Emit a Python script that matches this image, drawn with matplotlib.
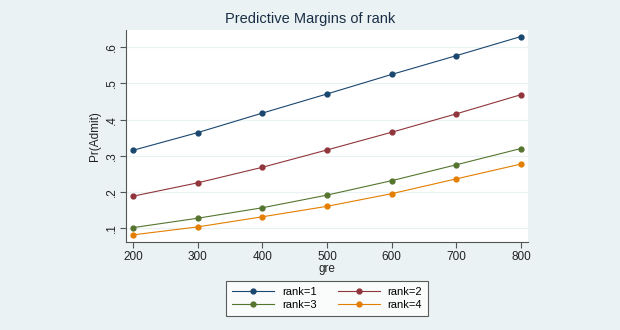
import matplotlib
matplotlib.use("Agg")
import matplotlib.pyplot as plt

gre = [200, 300, 400, 500, 600, 700, 800]
rank1 = [0.315, 0.364, 0.418, 0.471, 0.525, 0.577, 0.630]
rank2 = [0.188, 0.225, 0.268, 0.316, 0.365, 0.416, 0.469]
rank3 = [0.101, 0.127, 0.156, 0.191, 0.231, 0.275, 0.320]
rank4 = [0.081, 0.103, 0.131, 0.160, 0.195, 0.236, 0.277]
series = [rank1, rank2, rank3, rank4]
labels = ["rank=1", "rank=2", "rank=3", "rank=4"]
colors = ["#1a476f", "#90353b", "#55752f", "#e37e00"]
yticks = [0.1, 0.2, 0.3, 0.4, 0.5, 0.6]
yticklabels = [".1", ".2", ".3", ".4", ".5", ".6"]
xticks = [200, 300, 400, 500, 600, 700, 800]

plt.rcParams['font.family'] = ['Liberation Sans', 'DejaVu Sans']
bg = "#eaf2f3"
fig = plt.figure(figsize=(6.2, 3.3), dpi=100, facecolor=bg)
ax = fig.add_axes([126/620, 1-242.3/330, 402/620, 212.3/330])
ax.set_facecolor("white")

handles = []
for s, lab, c in zip(series, labels, colors):
    h, = ax.plot(gre, s, color=c, lw=0.8, marker="o", ms=3.5, mec=c, mfc=c, label=lab, zorder=3)
    handles.append(h)

ax.set_xlim(189.2, 810.8)
ax.set_ylim(0.0604, 0.648)
ax.set_xticks(xticks)
ax.set_xticklabels([str(x) for x in xticks], fontsize=8.5, color="#222222")
ax.set_yticks(yticks)
ax.set_yticklabels(yticklabels, fontsize=8.5, rotation=90, va="center", color="#222222")
ax.yaxis.grid(True, color=bg, lw=0.9, zorder=0)
ax.set_axisbelow(True)
for sp in ["top", "right"]:
    ax.spines[sp].set_visible(False)
for sp in ["left", "bottom"]:
    ax.spines[sp].set_color("#555555")
    ax.spines[sp].set_linewidth(0.8)
ax.tick_params(direction="out", length=4, width=0.8, color="#555555", pad=2)
ax.set_xlabel("gre", fontsize=8.5, color="#222222", labelpad=0)
ax.set_ylabel("Pr(Admit)", fontsize=8.5, color="#222222", labelpad=3)

fig.suptitle("Predictive Margins of rank", x=0.5, y=1-19/330, va="center",
             fontsize=10.5, color="#1a2e45")

order = [0, 2, 1, 3]
leg = fig.legend([handles[i] for i in order], [labels[i] for i in order],
                 loc="center", bbox_to_anchor=(327/620, 1-298.3/330), ncol=2,
                 fontsize=8, frameon=True, fancybox=False, edgecolor="#333333",
                 facecolor="white", handlelength=3.8, handletextpad=0.7,
                 columnspacing=1.9, borderpad=0.5, labelspacing=0.3)
leg.get_frame().set_linewidth(0.8)

fig.savefig("out.png", dpi=100, facecolor=bg)
